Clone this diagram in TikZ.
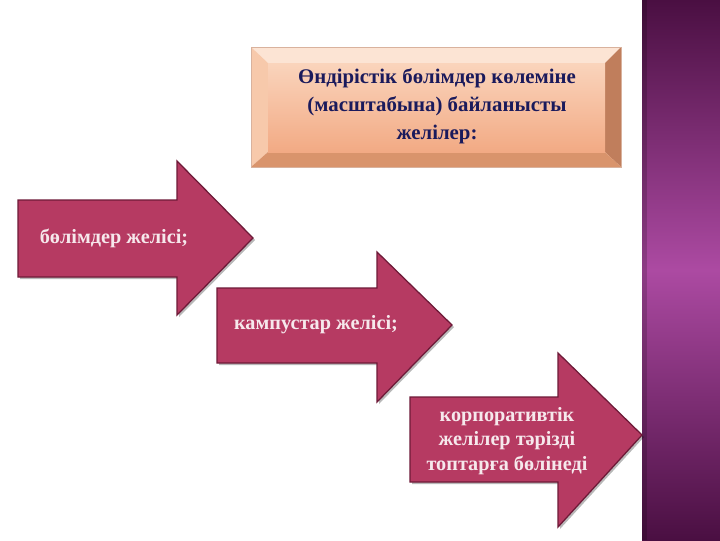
\documentclass[tikz,border=0pt]{standalone}
\usepackage{fontspec}
\setmainfont{Liberation Serif}
\definecolor{bandA}{HTML}{4A0F42}
\definecolor{bandB}{HTML}{AC4AA2}
\definecolor{arrowc}{HTML}{B63A62}
\definecolor{arrowline}{HTML}{6E1A38}
\definecolor{arrowtext}{HTML}{F6E8EC}
\definecolor{boxtext}{HTML}{1A1A5C}
\definecolor{faceA}{HTML}{FAD4BC}
\definecolor{faceB}{HTML}{F2AA84}
\definecolor{bevtop}{HTML}{FCE4D4}
\definecolor{bevleft}{HTML}{F7C9AB}
\definecolor{bevright}{HTML}{C07E5C}
\definecolor{bevbot}{HTML}{D9946C}
\tikzset{
  arrowshape/.style={fill=arrowc, draw=arrowline, line width=0.9pt, line join=miter},
  arrowshadow/.style={fill=black, opacity=0.28},
  arrowlabel/.style={text=arrowtext, font=\bfseries\fontsize{14.4}{17.2}\selectfont, align=center, inner sep=0pt},
  boxlabel/.style={text=boxtext, font=\bfseries\fontsize{14.8}{19.8}\selectfont, align=center, inner sep=0pt}
}
\begin{document}
\begin{tikzpicture}[x=0.025cm,y=-0.025cm]
\useasboundingbox (0,0) rectangle (720,540);
\fill[white] (0,0) rectangle (720,540);
% side band
\shade[top color=bandA, bottom color=bandA, middle color=bandB] (642,0) rectangle (720,540);
\fill[black, opacity=0.18] (642,0) rectangle (647,540);
% bevelled title box
\fill[bevtop] (251,47) -- (621,47) -- (605,63) -- (268,63) -- cycle;
\fill[bevleft] (251,47) -- (268,63) -- (268,152) -- (251,167) -- cycle;
\fill[bevright] (621,47) -- (621,167) -- (605,152) -- (605,63) -- cycle;
\fill[bevbot] (251,167) -- (621,167) -- (605,152) -- (268,152) -- cycle;
\shade[top color=faceA, bottom color=faceB] (268,63) rectangle (605,152);
\draw[draw=bevright!60, line width=0.4pt] (251,47) rectangle (621,167);
\node[boxlabel] (title) at (437,106) {Өндірістік бөлімдер көлеміне\\(масштабына) байланысты\\желілер:};
% arrow 1
\fill[arrowshadow] (20,202) -- (179,202) -- (179,163) -- (255,240) -- (179,317) -- (179,279) -- (20,279) -- cycle;
\path[arrowshape] (18,200) -- (177,200) -- (177,161) -- (253,238) -- (177,315) -- (177,277) -- (18,277) -- cycle;
\node[arrowlabel] (a1) at (114,238) {бөлімдер желісі;};
% arrow 2
\fill[arrowshadow] (219,290) -- (379,290) -- (379,254) -- (454,327) -- (379,404) -- (379,365) -- (219,365) -- cycle;
\path[arrowshape] (217,288) -- (377,288) -- (377,252) -- (452,325) -- (377,402) -- (377,363) -- (217,363) -- cycle;
\node[arrowlabel] (a2) at (316,325) {кампустар желісі;};
% arrow 3
\fill[arrowshadow] (412,399) -- (560,399) -- (560,355) -- (644,437) -- (560,529) -- (560,484) -- (412,484) -- cycle;
\path[arrowshape] (410,397) -- (558,397) -- (558,353) -- (642,435) -- (558,527) -- (558,482) -- (410,482) -- cycle;
\node[arrowlabel] (a3) at (507,441) {корпоративтік\\желілер тәрізді\\топтарға бөлінеді};
\end{tikzpicture}
\end{document}
